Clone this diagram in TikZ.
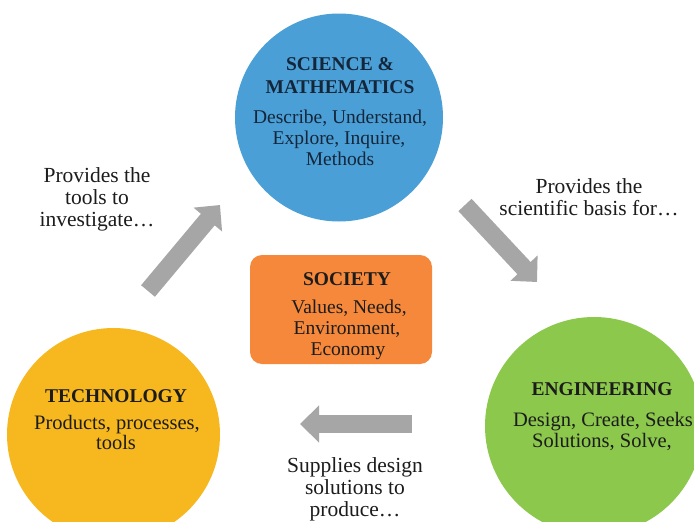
\documentclass[tikz,border=0pt]{standalone}
\usepackage{fontspec}
\setmainfont{Liberation Serif}
\usetikzlibrary{arrows.meta}
\definecolor{sciblue}{HTML}{4A9FD6}
\definecolor{techyellow}{HTML}{F6B81E}
\definecolor{enggreen}{HTML}{8CC84B}
\definecolor{socorange}{HTML}{F5883A}
\definecolor{arrowgray}{HTML}{A6A6A6}
\definecolor{inktext}{HTML}{1C1C1C}
\definecolor{scitext}{HTML}{15263A}
\begin{document}
\begin{tikzpicture}[x=1pt,y=-1pt,
  disc/.style={circle, inner sep=0pt, minimum size=#1},
  ttl/.style={anchor=base, font=\fontsize{19.5}{20}\selectfont\bfseries, text=inktext, inner sep=0pt},
  body/.style={anchor=base, font=\fontsize{20.5}{20}\selectfont, text=inktext, inner sep=0pt},
  lbl/.style={anchor=base, font=\fontsize{21.5}{22}\selectfont, text=inktext, inner sep=0pt},
  bigarrow/.style={draw=arrowgray, line width=18pt, -{Triangle[length=19pt,width=36pt]}, arrowgray}
]
\useasboundingbox (0,0) rectangle (694,522);
\clip (0,0) rectangle (694,522);
\fill[white] (0,0) rectangle (694,522);

% main shapes
\node[disc=208pt, fill=sciblue] (sci) at (339,117.5) {};
\node[disc=213pt, fill=techyellow] (tech) at (113.5,434.5) {};
\node[disc=218pt, fill=enggreen] (eng) at (594,426) {};
\node[rectangle, rounded corners=12pt, fill=socorange, minimum width=182pt, minimum height=109pt, inner sep=0pt] (soc) at (341,309.5) {};

% arrows
\coordinate (a1s) at (148,291); \coordinate (a1e) at (220,205);
\coordinate (a2s) at (465,205); \coordinate (a2e) at (537,282);
\coordinate (a3s) at (412,424); \coordinate (a3e) at (300,424);
\draw[bigarrow] (a1s) -- (a1e);
\draw[bigarrow] (a2s) -- (a2e);
\draw[bigarrow] (a3s) -- (a3e);

% science text
\node[ttl, text=scitext] (sciT1) at (340,70) {SCIENCE \&};
\node[ttl, text=scitext] (sciT2) at (340,93) {MATHEMATICS};
\node[body, text=scitext, font=\fontsize{19.5}{20}\selectfont] (sciB1) at (340,123) {Describe, Understand,};
\node[body, text=scitext, font=\fontsize{19.5}{20}\selectfont] (sciB2) at (339,144) {Explore, Inquire,};
\node[body, text=scitext, font=\fontsize{19.5}{20}\selectfont] (sciB3) at (340,165) {Methods};

% technology text
\node[ttl] (techT) at (116,402) {TECHNOLOGY};
\node[body] (techB1) at (117,429) {Products, processes,};
\node[body] (techB2) at (116,449) {tools};

% engineering text
\node[ttl] (engT) at (602,395) {ENGINEERING};
\node[body] (engB1) at (603,426) {Design, Create, Seeks};
\node[body] (engB2) at (602,447) {Solutions, Solve,};

% society text
\node[ttl] (socT) at (347,285) {SOCIETY};
\node[body, font=\fontsize{19.5}{20}\selectfont] (socB1) at (349,313) {Values, Needs,};
\node[body, font=\fontsize{19.5}{20}\selectfont] (socB2) at (347,334) {Environment,};
\node[body, font=\fontsize{19.5}{20}\selectfont] (socB3) at (348,355) {Economy};

% connector labels
\node[lbl] (l1a) at (97,182) {Provides the};
\node[lbl] (l1b) at (97,204) {tools to};
\node[lbl] (l1c) at (97,226) {investigate…};
\node[lbl] (l2a) at (589,193) {Provides the};
\node[lbl] (l2b) at (589,215) {scientific basis for…};
\node[lbl] (l3a) at (355,472) {Supplies design};
\node[lbl] (l3b) at (355,494) {solutions to};
\node[lbl] (l3c) at (355,516) {produce…};
\end{tikzpicture}
\end{document}
